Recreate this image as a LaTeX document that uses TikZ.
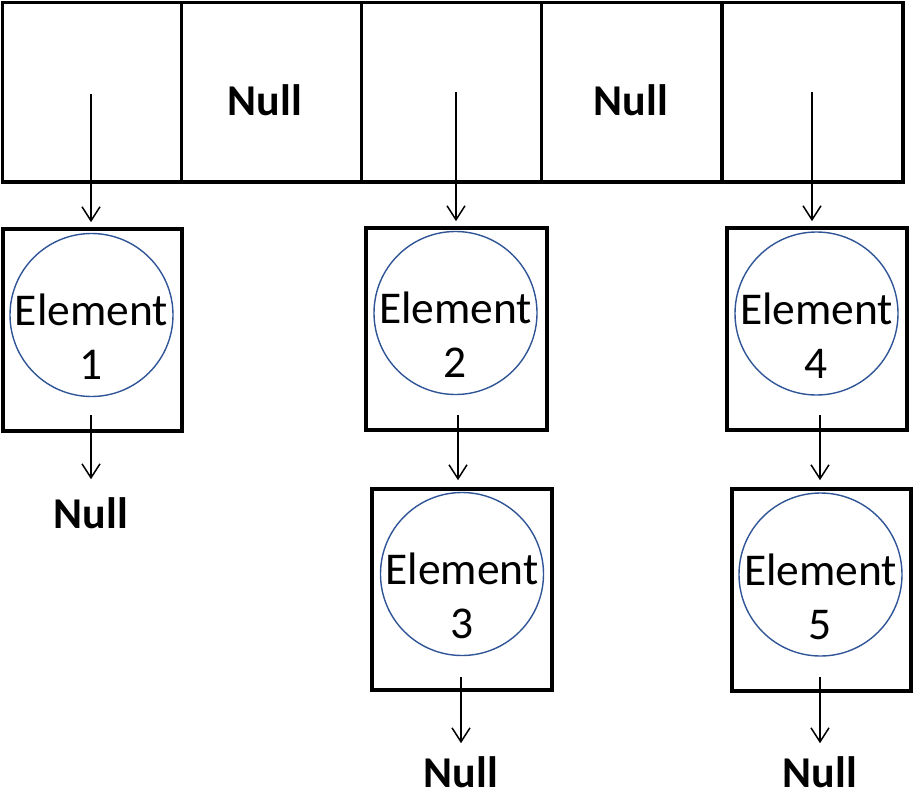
\documentclass[tikz,border=0pt]{standalone}
\usepackage{fontspec}
\setmainfont{Carlito}
\usetikzlibrary{arrows.meta}
\definecolor{circblue}{RGB}{47,85,151}
\begin{document}
\begin{tikzpicture}[x=1pt,y=-1pt,
  cell/.style={draw,line width=3.7pt,minimum height=179.5pt,inner sep=0pt,outer sep=0pt},
  ebox/.style={draw,line width=3.7pt,inner sep=0pt,minimum height=202pt},
  ecirc/.style={draw=circblue,circle,line width=1.4pt,minimum size=163pt,inner sep=0pt},
  etext/.style={align=center,font=\fontsize{45.5}{54}\selectfont,inner sep=0pt},
  nulltext/.style={font=\fontsize{44}{52}\selectfont\bfseries,inner sep=0pt},
  ptr/.style={line width=1.5pt,-{Straight Barb[length=14pt,width=18pt]}}]
\useasboundingbox (0,0) rectangle (915,798);
% array cells
\node[cell,minimum width=179pt]   (c1) at (92,92.25) {};
\node[cell,minimum width=180pt]   (c2) at (271.5,92.25) {};
\node[cell,minimum width=180pt]   (c3) at (451.5,92.25) {};
\node[cell,minimum width=180.5pt] (c4) at (631.75,92.25) {};
\node[cell,minimum width=181pt]   (c5) at (812.5,92.25) {};
\node[nulltext] (n2) at (265,100) {Null};
\node[nulltext] (n4) at (631,100) {Null};
% element boxes
\node[ebox,minimum width=179pt] (b1) at (92.5,330) {};
\node[ebox,minimum width=181pt] (b2) at (456.5,329) {};
\node[ebox,minimum width=180pt] (b4) at (817,329) {};
\node[ebox,minimum width=180pt,minimum height=201pt] (b3) at (462,589.5) {};
\node[ebox,minimum width=179pt] (b5) at (821.5,590) {};
% circles
\node[ecirc] (e1) at (91.5,315) {};
\node[ecirc] (e2) at (455.5,313) {};
\node[ecirc] (e4) at (816.5,313.5) {};
\node[ecirc] (e3) at (462,574) {};
\node[ecirc] (e5) at (820.5,574.5) {};
\node[etext] (t1) at ([yshift=-22pt]e1.center) {Element\\1};
\node[etext] (t2) at ([yshift=-22pt]e2.center) {Element\\2};
\node[etext] (t4) at ([yshift=-22pt]e4.center) {Element\\4};
\node[etext] (t3) at ([yshift=-22pt]e3.center) {Element\\3};
\node[etext] (t5) at ([yshift=-22pt]e5.center) {Element\\5};
% bottom nulls
\node[nulltext] (nb1) at (91,513) {Null};
\node[nulltext] (nb3) at (461,772) {Null};
\node[nulltext] (nb5) at (820,772) {Null};
% pointer starts
\coordinate (p1) at (91,94);
\coordinate (p2) at (456,92);
\coordinate (p4) at (812,92);
\coordinate (s1) at (91,415);
\coordinate (s2) at (458,415);
\coordinate (s4) at (820,415);
\coordinate (s3) at (461,677);
\coordinate (s5) at (820,677);
% arrows
\draw[ptr] (p1) -- ([yshift=5pt]p1 |- b1.north);
\draw[ptr] (p2) -- ([yshift=5pt]p2 |- b2.north);
\draw[ptr] (p4) -- ([yshift=5pt]p4 |- b4.north);
\draw[ptr] (s2) -- ([yshift=7pt]s2 |- b3.north);
\draw[ptr] (s4) -- ([yshift=7pt]s4 |- b5.north);
\draw[ptr] (s1) -- ([yshift=18pt]s1 |- nb1.north);
\draw[ptr] (s3) -- ([yshift=13pt]s3 |- nb3.north);
\draw[ptr] (s5) -- ([yshift=13pt]s5 |- nb5.north);
\end{tikzpicture}
\end{document}
